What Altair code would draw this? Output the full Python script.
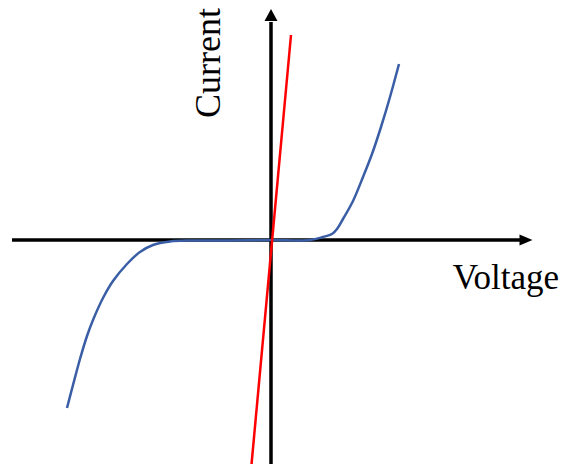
import altair as alt
import pandas as pd

# Schematic I-V curve, coordinates relative to the origin
blue_x = [-204, -198, -191, -184, -178, -168, -158, -144, -131, -118, -101, -81, -41, 0, 39, 52, 61, 66, 72, 82, 92, 101, 110, 119, 128]
blue_y = [-168, -145, -119, -96, -80, -58, -41, -24, -12, -5, -1.5, -0.5, -0.5, 0, 0, 3, 6, 11, 21, 39, 63, 86, 113, 143, 176]
red_x = [-20, 20]
red_y = [-230, 205]
haxis_x = [-259, 250]
vaxis_y = [-230, 218]
labels = ["Current", "Voltage"]

XD = [-263, 290]
YD = [-224, 228]
W, H = 553, 452

xs = alt.Scale(domain=XD, nice=False, zero=False)
ys = alt.Scale(domain=YD, nice=False, zero=False)

def X(f="x"):
    return alt.X(f"{f}:Q", scale=xs, axis=None)

def Y(f="y"):
    return alt.Y(f"{f}:Q", scale=ys, axis=None)

haxis = alt.Chart(pd.DataFrame({"x": haxis_x, "y": [0, 0]})).mark_line(
    color="black", strokeWidth=3.5, clip=True).encode(x=X(), y=Y())
vaxis = alt.Chart(pd.DataFrame({"x": [0, 0], "y": vaxis_y})).mark_line(
    color="black", strokeWidth=3.5, clip=True).encode(x=X(), y=Y(), order="y:Q")

harrow = alt.Chart(pd.DataFrame({"x": [255], "y": [0]})).mark_point(
    shape="M1,0L-1,-0.85L-1,0.85Z", filled=True, color="black", opacity=1, size=169
).encode(x=X(), y=Y())
varrow = alt.Chart(pd.DataFrame({"x": [0], "y": [225]})).mark_point(
    shape="M0,-0.92L1,0.92L-1,0.92Z", filled=True, color="black", opacity=1, size=169
).encode(x=X(), y=Y())

red = alt.Chart(pd.DataFrame({"x": red_x, "y": red_y})).mark_line(
    color="#ff0000", strokeWidth=2.5, clip=True).encode(x=X(), y=Y())

blue = alt.Chart(pd.DataFrame({"x": blue_x, "y": blue_y})).mark_line(
    color="#3A5EA5", strokeWidth=2.5, interpolate="catmull-rom").encode(x=X(), y=Y())

cur = alt.Chart(pd.DataFrame({"x": [-51], "y": [177], "t": [labels[0]]})).mark_text(
    font="Liberation Serif", fontSize=36, angle=270, align="center", baseline="alphabetic", color="black"
).encode(x=X(), y=Y(), text="t:N")
vol = alt.Chart(pd.DataFrame({"x": [288], "y": [-49], "t": [labels[1]]})).mark_text(
    font="Liberation Serif", fontSize=35, align="right", baseline="alphabetic", color="black"
).encode(x=X(), y=Y(), text="t:N")

chart = alt.layer(haxis, vaxis, blue, red, harrow, varrow, cur, vol).properties(
    width=W, height=H, padding=0, background="white"
).configure_view(stroke=None)

chart.save("out.html", embed_options={"renderer": "svg", "actions": False})
